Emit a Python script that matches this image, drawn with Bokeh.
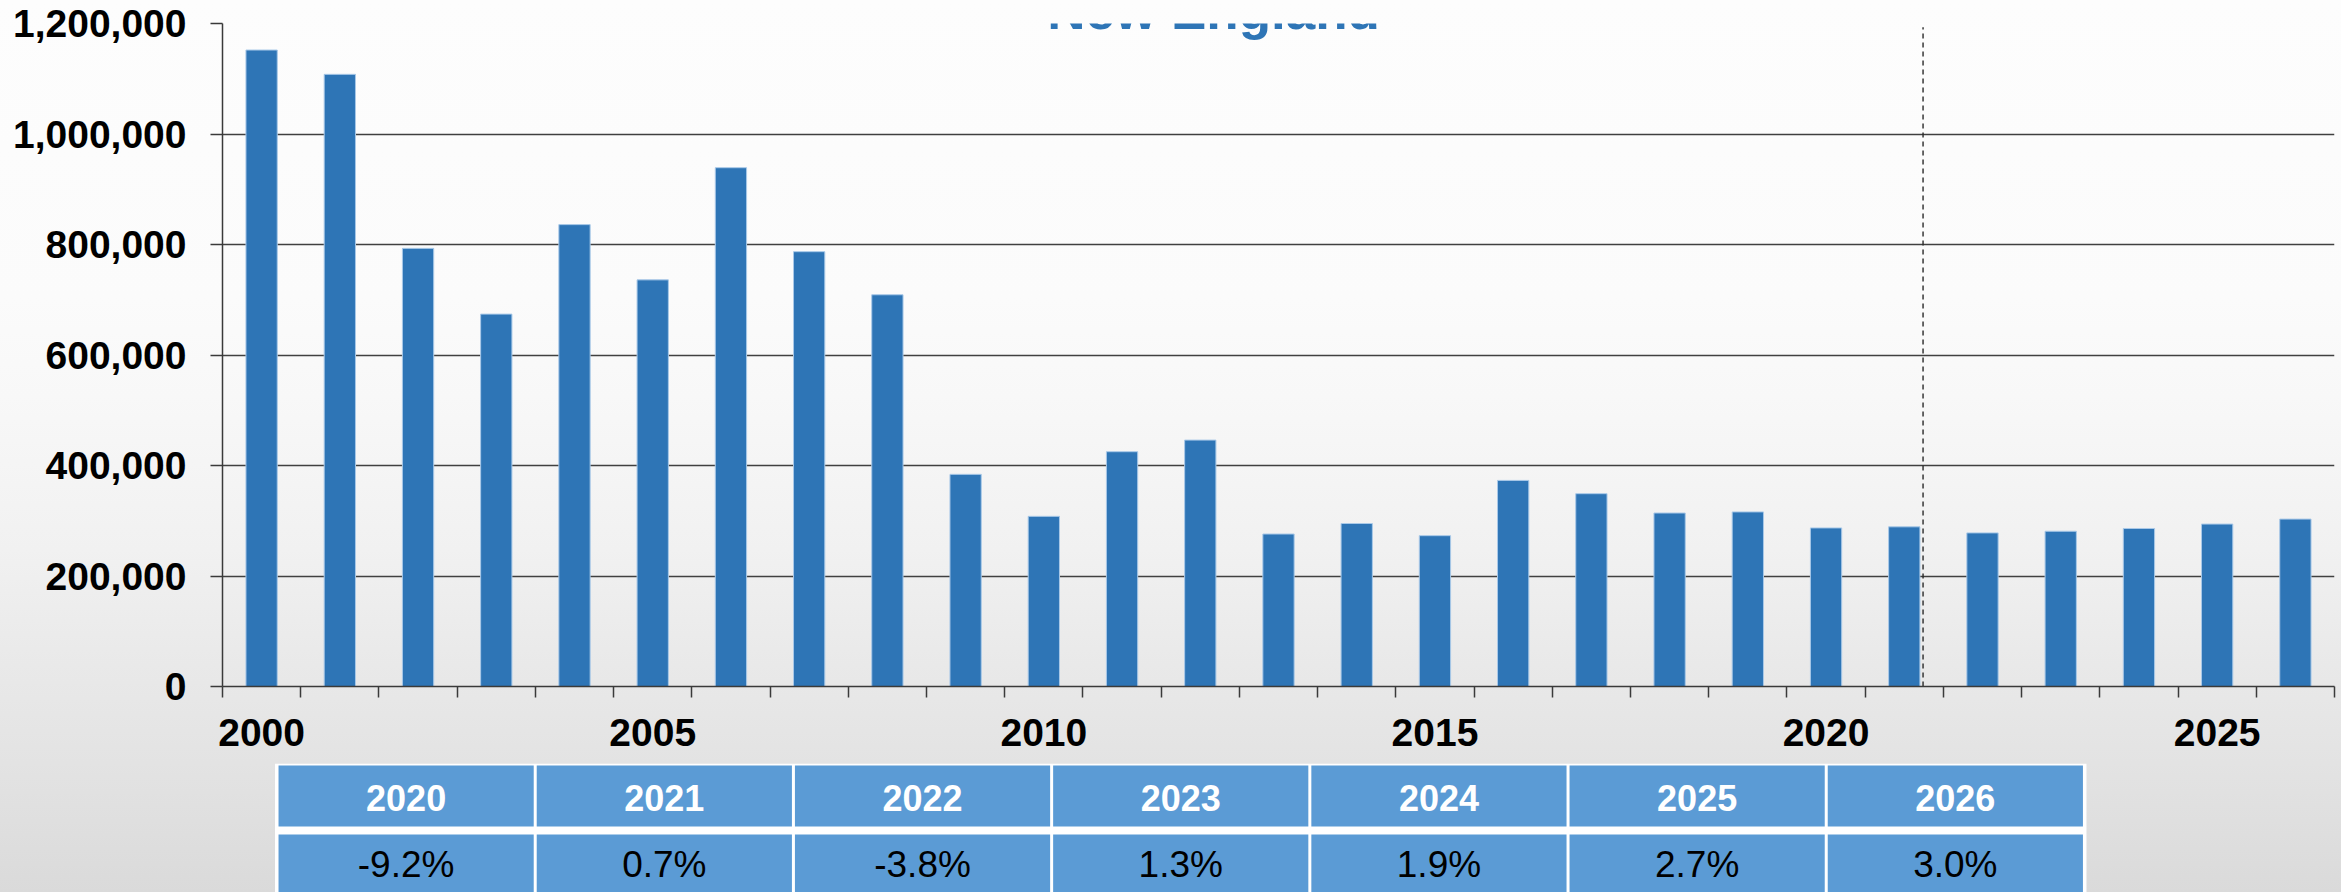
import numpy as np
from bokeh.plotting import figure
from bokeh.models import Range1d, FixedTicker, NumeralTickFormatter, Label
from bokeh.layouts import column
from bokeh.core.properties import value
from bokeh.embed import file_html
from bokeh.resources import INLINE

# ---------------- data ----------------
years = list(range(2000, 2027))
starts = [1152000, 1108000, 793000, 674000, 836000, 736000, 939000, 787000, 709000,
          384000, 308000, 425000, 446000, 276000, 295000, 273000, 373000, 349000,
          314000, 316000, 287000, 289000, 278000, 281000, 286000, 294000, 303000]
label_years = [2000, 2005, 2010, 2015, 2020, 2025]
y_ticks = [0, 200000, 400000, 600000, 800000, 1000000, 1200000]
table_years = ["2020", "2021", "2022", "2023", "2024", "2025", "2026"]
table_growth = [-9.2, 0.7, -3.8, 1.3, 1.9, 2.7, 3.0]
title_text = "New England"
forecast_divider = 2021.24

# ---------------- style ----------------
FONT = "Liberation Sans"
BAR = "#2E75B6"
BAR_EDGE = "#A9C9E8"
CELL = "#5B9BD5"
AXIS = "#3a3a3a"

W = 2341
H1 = 763
H2 = 129
LEFT = 222
RIGHT = 7

p = figure(width=W, height=H1, x_range=Range1d(1999.5, 2026.5),
           y_range=Range1d(0, 1200000), output_backend="svg", toolbar_location=None,
           min_border_left=LEFT, min_border_right=RIGHT, min_border_top=23,
           min_border_bottom=77)
p.background_fill_alpha = 0
p.border_fill_alpha = 0
p.outline_line_color = None
p.styles = {"background": "linear-gradient(to bottom, #fdfdfd 0%, #fbfbfb 39%, "
                          "#f8f8f8 52%, #f1f1f1 72%, #eaeaea 85%, #e3e3e3 100%)"}

p.vbar(x=years, top=starts, width=0.4, fill_color=BAR, line_color=BAR_EDGE,
       line_width=1)
p.segment(x0=[forecast_divider], y0=[0], x1=[forecast_divider], y1=[1193000],
          line_color="#2a2a2a", line_width=1.4, line_dash="5 4")

p.xgrid.visible = False
p.ygrid.grid_line_color = "#404040"
p.ygrid.grid_line_width = 1.3
p.ygrid.ticker = FixedTicker(ticks=y_ticks)

xa = p.xaxis[0]
xa.ticker = FixedTicker(ticks=label_years,
                        minor_ticks=[y - 0.5 for y in years] + [years[-1] + 0.5])
xa.major_tick_out = 0
xa.major_tick_in = 0
xa.minor_tick_out = 11
xa.minor_tick_in = 0
xa.minor_tick_line_color = AXIS
xa.minor_tick_line_width = 1.5
xa.axis_line_color = AXIS
xa.axis_line_width = 1.5
xa.major_label_text_font = FONT
xa.major_label_text_font_style = "bold"
xa.major_label_text_font_size = "39px"
xa.major_label_text_color = "black"
xa.major_label_standoff = 21

ya = p.yaxis[0]
ya.ticker = FixedTicker(ticks=y_ticks)
ya.formatter = NumeralTickFormatter(format="0,0")
ya.major_tick_out = 12
ya.major_tick_in = 0
ya.minor_tick_out = 0
ya.minor_tick_in = 0
ya.major_tick_line_color = AXIS
ya.major_tick_line_width = 1.5
ya.axis_line_color = AXIS
ya.axis_line_width = 1.5
ya.major_label_text_font = FONT
ya.major_label_text_font_style = "bold"
ya.major_label_text_font_size = "39px"
ya.major_label_text_color = "black"
ya.major_label_standoff = 24

p.add_layout(Label(x=2012.17, y=1223000, text=title_text, text_font=FONT,
                   text_font_style="bold", text_font_size="53px", text_color=BAR,
                   text_align="center", text_baseline="alphabetic"))

# ---------------- table (x in the chart's year units) ----------------
t = figure(width=W, height=H2, x_range=p.x_range, y_range=Range1d(H2, 0),
           x_axis_type=None, y_axis_type=None, output_backend="svg",
           toolbar_location=None, min_border_left=LEFT, min_border_right=RIGHT,
           min_border_top=0, min_border_bottom=0)
t.background_fill_alpha = 0
t.border_fill_alpha = 0
t.outline_line_color = None
t.styles = {"background": "linear-gradient(to bottom, #e3e3e3 0%, #dadada 100%)"}
t.grid.visible = False

n = len(table_years)
x0 = 2000.197      # left edge of the table
cw = 3.3009        # column width (in years)
gap = 0.0192       # half of the white separator
idx = np.arange(n)
lefts = x0 + idx * cw + gap
rights = x0 + (idx + 1) * cw - gap
centers = x0 + (idx + 0.5) * cw

t.quad(left=[x0 - 0.026], right=[x0 + n * cw + 0.026], top=[0], bottom=[H2 + 20],
       fill_color="white", line_color=None)
t.quad(left=lefts, right=rights, top=[2] * n, bottom=[63] * n,
       fill_color=CELL, line_color=None)
t.quad(left=lefts, right=rights, top=[71] * n, bottom=[H2 + 20] * n,
       fill_color=CELL, line_color=None)
t.text(x=centers, y=[34] * n, text=table_years, text_font=value(FONT),
       text_font_style="bold", text_font_size=value("36px"), text_color="white",
       text_align="center", text_baseline="middle")
t.text(x=centers, y=[101] * n, text=[f"{v:.1f}%" for v in table_growth],
       text_font=value(FONT), text_font_style="normal",
       text_font_size=value("37px"), text_color="black",
       text_align="center", text_baseline="middle")

layout = column(p, t, spacing=0)
open("out.html", "w").write(file_html(layout, INLINE))
